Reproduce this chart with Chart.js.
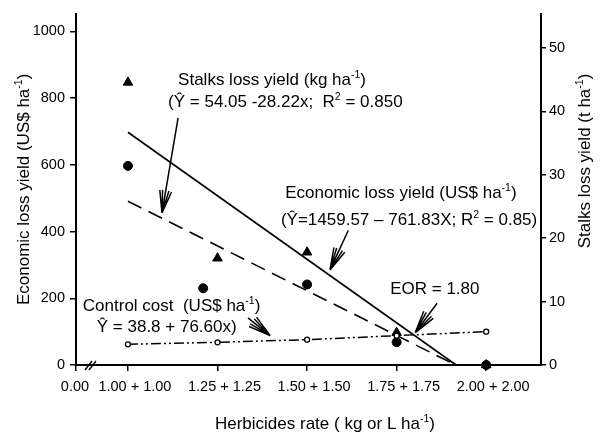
<!DOCTYPE html>
<html>
<head>
<meta charset="utf-8">
<script src="https://cdn.jsdelivr.net/npm/chart.js@4"></script>
<style>
  html, body { margin: 0; padding: 0; background: #fff; }
  #wrap { width: 608px; height: 436px; position: relative; }
</style>
</head>
<body>
<div id="wrap"><canvas id="chart"></canvas></div>
<script>
// values
const rates = [1.00, 1.25, 1.50, 1.75, 2.00];
const economicLoss = [847, 320, 338, 97, 0];          // triangles, US$ ha-1
const stalksRates = [1.00, 1.21, 1.50, 1.75, 2.00];
const stalksLoss = [31.4, 12.1, 12.7, 3.6, 0];        // circles, t ha-1
const controlCost = [62, 68, 76, 88, 100];            // open circles, US$ ha-1
const econFitX = [1.00, 1.916];
const econFitY = [697.7, 0];
const stalksFitX = [1.00, 1.915];
const stalksFitY = [25.83, 0];
const xTicks = [0.855, 1.00, 1.25, 1.50, 1.75, 2.00];
const leftTicks = [0, 200, 400, 600, 800, 1000];
const rightTicks = [0, 10, 20, 30, 40, 50];

const FONT = '"Liberation Sans", Arial, sans-serif';
Chart.defaults.font.family = FONT;
Chart.defaults.color = '#000';

function pts(xs, ys) {
  return xs.map((x, i) => ({ x: x, y: ys[i] }));
}

// text with superscripts: plain strings, arrays = superscript
function richWidth(ctx, parts, size) {
  let w = 0;
  parts.forEach(p => {
    const sup = Array.isArray(p);
    ctx.font = (sup ? size * 0.62 : size) + 'px ' + FONT;
    w += ctx.measureText(sup ? p[0] : p).width;
  });
  return w;
}
function drawRich(ctx, parts, x, y, size) {
  let cx = x;
  ctx.textBaseline = 'middle';
  ctx.textAlign = 'left';
  parts.forEach(p => {
    const sup = Array.isArray(p);
    const t = sup ? p[0] : p;
    ctx.font = (sup ? size * 0.62 : size) + 'px ' + FONT;
    ctx.fillText(t, cx, sup ? y - size * 0.3 : y);
    cx += ctx.measureText(t).width;
  });
}

function arrow(ctx, x1, y1, x2, y2) {
  const a = Math.atan2(y1 - y2, x1 - x2);
  ctx.beginPath();
  ctx.moveTo(x1, y1);
  ctx.lineTo(x2, y2);
  [-15, -8, 8, 15].forEach(d => {
    const r = a + d * Math.PI / 180;
    ctx.moveTo(x2, y2);
    ctx.lineTo(x2 + 23 * Math.cos(r), y2 + 23 * Math.sin(r));
  });
  ctx.stroke();
}

// annotations, anchored in data units (x rate, left-axis US$)
const notes = [
  { x: 1.140, y: 853, parts: ['Stalks loss yield (kg ha', ['-1'], ')'] },
  { x: 1.112, y: 788, parts: ['(\u0176 = 54.05 -28.22x;  R', ['2'], ' = 0.850'] },
  { x: 1.439, y: 515, parts: ['Economic loss yield (US$ ha', ['-1'], ')'] },
  { x: 1.427, y: 435, parts: ['(\u0176=1459.57 \u2013 761.83X; R', ['2'], ' = 0.85)'] },
  { x: 0.874, y: 176, parts: ['Control cost  (US$ ha', ['-1'], ')'] },
  { x: 0.913, y: 112, parts: ['\u0176 = 38.8 + 76.60x)'] },
  { x: 1.732, y: 226, parts: ['EOR = 1.80'] }
];
const arrows = [
  [1.140, 741, 1.095, 456],
  [1.615, 403, 1.564, 285],
  [1.335, 141, 1.397, 88],
  [1.863, 185, 1.802, 97]
];

const annotate = {
  id: 'annotate',
  afterDatasetsDraw(chart) {
    const c = chart.ctx;
    const xs = chart.scales.x, ys = chart.scales.y;
    const area = chart.chartArea;
    c.save();
    c.fillStyle = '#000';
    c.strokeStyle = '#000';
    c.lineWidth = 1.5;
    notes.forEach(n => {
      drawRich(c, n.parts, xs.getPixelForValue(n.x), ys.getPixelForValue(n.y), 17);
    });
    arrows.forEach(a => {
      arrow(c, xs.getPixelForValue(a[0]), ys.getPixelForValue(a[1]),
        xs.getPixelForValue(a[2]), ys.getPixelForValue(a[3]));
    });
    // axis break
    c.lineWidth = 1.3;
    c.beginPath();
    c.moveTo(area.left + 9, area.bottom + 5); c.lineTo(area.left + 16, area.bottom - 4);
    c.moveTo(area.left + 13, area.bottom + 5); c.lineTo(area.left + 20, area.bottom - 4);
    c.stroke();

    // axis titles
    const xt = ['Herbicides rate ( kg or L ha', ['-1'], ')'];
    let w = richWidth(c, xt, 17);
    drawRich(c, xt, 325 - w / 2, 424, 17);

    const lt = ['Economic loss yield (US$ ha', ['-1'], ')'];
    w = richWidth(c, lt, 17);
    c.save();
    c.translate(24, (area.top + area.bottom) / 2);
    c.rotate(-Math.PI / 2);
    drawRich(c, lt, -w / 2, 0, 17);
    c.restore();

    const rt = ['Stalks loss yield (t ha', ['-1'], ')'];
    w = richWidth(c, rt, 17);
    c.save();
    c.translate(585, 161);
    c.rotate(-Math.PI / 2);
    drawRich(c, rt, -w / 2, 0, 17);
    c.restore();
    c.restore();
  }
};

document.addEventListener('DOMContentLoaded', function () {
  const ctx = document.getElementById('chart').getContext('2d');
  const chart = new Chart(ctx, {
    type: 'scatter',
    data: {
      datasets: [
        {
          label: 'Control cost',
          data: pts(rates, controlCost),
          yAxisID: 'y',
          showLine: true,
          borderColor: '#000',
          borderWidth: 1.5,
          borderDash: [10, 3, 2, 3, 2, 3],
          pointStyle: 'circle',
          pointRadius: 2.5,
          pointBackgroundColor: '#fff',
          pointBorderColor: '#000',
          pointBorderWidth: 1.3
        },
        {
          label: 'Economic fit',
          data: pts(econFitX, econFitY),
          yAxisID: 'y',
          showLine: true,
          borderColor: '#000',
          borderWidth: 1.6,
          pointRadius: 0
        },
        {
          label: 'Stalks fit',
          data: pts(stalksFitX, stalksFitY),
          yAxisID: 'y2',
          showLine: true,
          borderColor: '#000',
          borderWidth: 1.6,
          borderDash: [15, 8],
          pointRadius: 0
        },
        {
          label: 'Economic loss',
          data: pts(rates, economicLoss),
          yAxisID: 'y',
          pointStyle: 'triangle',
          pointRadius: 5.5,
          backgroundColor: '#000',
          borderColor: '#000'
        },
        {
          label: 'Stalks loss',
          data: pts(stalksRates, stalksLoss),
          yAxisID: 'y2',
          pointStyle: 'circle',
          pointRadius: 4.5,
          backgroundColor: '#000',
          borderColor: '#000'
        }
      ]
    },
    options: {
      responsive: true,
      maintainAspectRatio: false,
      animation: false,
      clip: false,
      layout: { padding: { top: 7, left: 0, right: 0, bottom: 0 } },
      plugins: { legend: { display: false }, tooltip: { enabled: false } },
      scales: {
        x: {
          type: 'linear',
          min: 0.855,
          max: 2.153,
          afterFit: s => { s.height = 71; },
          afterBuildTicks: s => { s.ticks = xTicks.map(v => ({ value: v })); },
          ticks: {
            font: { size: 14.5 },
            padding: 7,
            labelOffset: 7,
            maxRotation: 0,
            autoSkip: false,
            // trailing spaces pull the broken-axis "0.00" back under the corner
            callback: v => v < 0.9 ? '0.00    ' : v.toFixed(2) + ' + ' + v.toFixed(2)
          },
          grid: { drawOnChartArea: false, drawTicks: true, tickLength: 6, color: '#000', lineWidth: 1.5 },
          border: { display: true, color: '#000', width: 2 }
        },
        y: {
          position: 'left',
          min: 0,
          max: 1053,
          afterFit: s => { s.width = 76; },
          afterBuildTicks: s => { s.ticks = leftTicks.map(v => ({ value: v })); },
          ticks: { font: { size: 14.5 }, padding: 5, callback: v => String(v) },
          grid: { drawOnChartArea: false, drawTicks: true, tickLength: 6, color: '#000', lineWidth: 1.5 },
          border: { display: true, color: '#000', width: 2 }
        },
        y2: {
          position: 'right',
          min: 0,
          max: 55.4,
          afterFit: s => { s.width = 67; },
          afterBuildTicks: s => { s.ticks = rightTicks.map(v => ({ value: v })); },
          ticks: { font: { size: 14.5 }, padding: 3, callback: v => String(v) },
          grid: { drawOnChartArea: false, drawTicks: true, tickLength: 5, color: '#000', lineWidth: 1.5 },
          border: { display: true, color: '#000', width: 2 }
        }
      }
    },
    plugins: [annotate]
  });
  console.log(chart.chartArea);
});
</script>
</body>
</html>
